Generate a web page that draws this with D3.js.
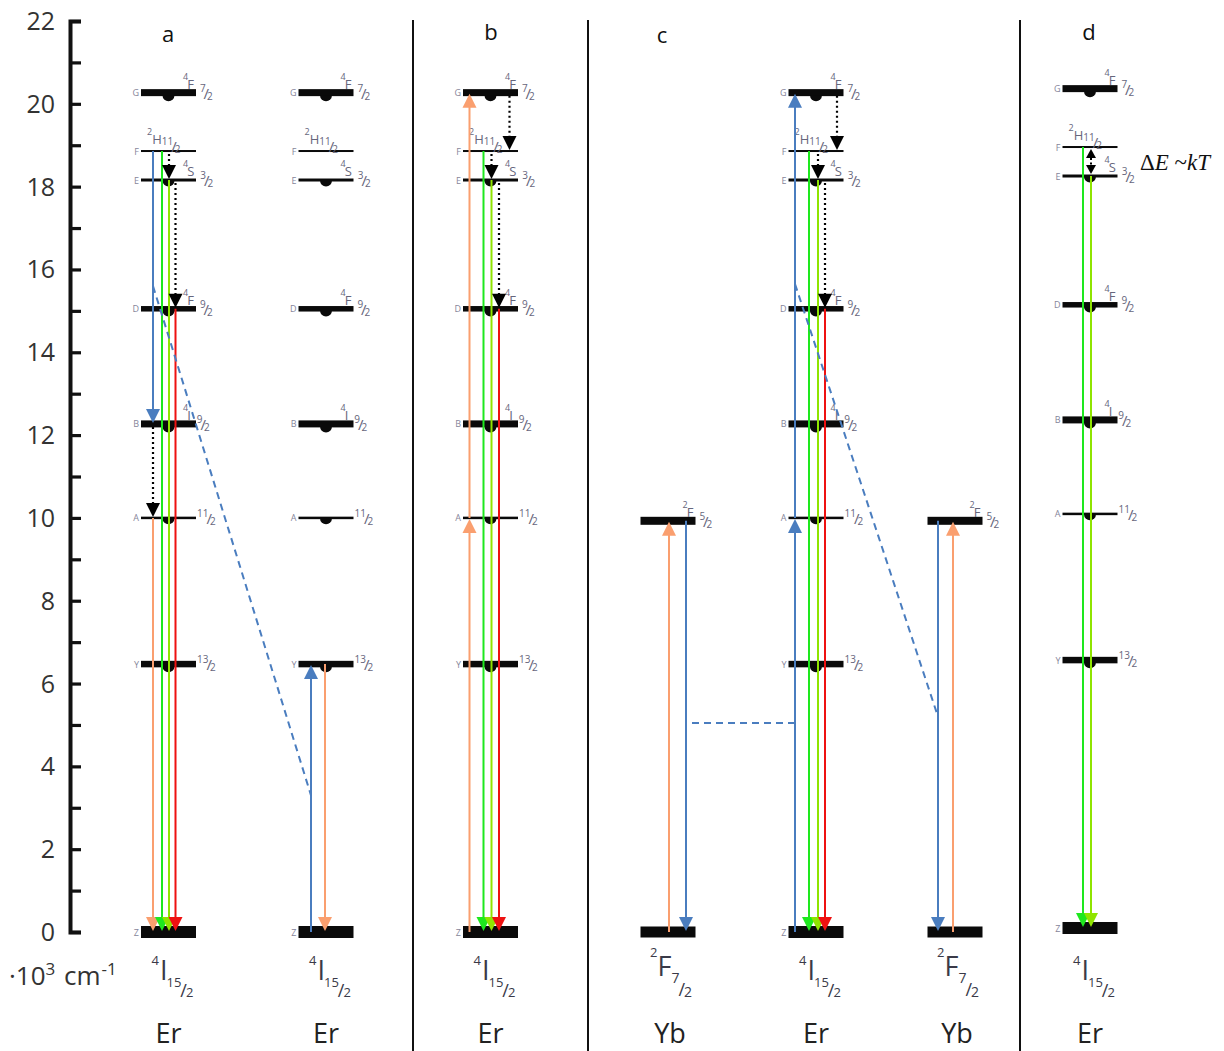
<!DOCTYPE html>
<html><head><meta charset="utf-8">
<script src="https://cdn.jsdelivr.net/npm/d3@7"></script>
<style>body{margin:0;background:#fff} svg{display:block}</style>
</head><body>
<script>
// ---------------- DATA ----------------
const energyTicks = [0, 2, 4, 6, 8, 10, 12, 14, 16, 18, 20, 22];
const allTicks = d3.range(0, 23, 1);
const unitLabel = ["·10", "3", " cm", "-1"];

const erLevelNames    = ["Z", "Y", "A", "B", "D", "E", "F", "G"];
const erLevelEnergies = [0, 6.47, 10.0, 12.27, 15.05, 18.16, 18.86, 20.27];
// term labels: [sup, letter, numerator, denominator]
const erLevelTerms = [null, ["", "", "13", "2"], ["", "", "11", "2"], ["4", "I", "9", "2"],
                      ["4", "F", "9", "2"], ["4", "S", "3", "2"], ["2", "H", "11", "2"], ["4", "F", "7", "2"]];
const erBumpLevels = ["Y", "A", "B", "D", "E", "G"];

const ybLevelNames    = ["g", "e"];
const ybLevelEnergies = [0, 9.93];
const ybLevelTerms    = [null, ["2", "F", "5", "2"]];

const panelLetters = ["a", "b", "c", "d"];
const columnIds  = ["a1", "a2", "b", "c1", "c2", "c3", "d"];
const columnIon  = ["Er", "Er", "Er", "Yb", "Er", "Yb", "Er"];
const ionGround  = { Er: ["4", "I", "15", "2"], Yb: ["2", "F", "7", "2"] };

// transitions: [column, from level, to level, kind, lane]
const transitions = [
  ["a1", "F", "B", "blue", "L"], ["a1", "B", "A", "nr", "L"], ["a1", "A", "Z", "orange", "L"],
  ["a1", "F", "Z", "green", "g"], ["a1", "E", "Z", "yg", "yg"], ["a1", "D", "Z", "red", "r"],
  ["a1", "F", "E", "nr", "yg"], ["a1", "E", "D", "nr", "r"],
  ["a2", "Z", "Y", "blue", "L"], ["a2", "Y", "Z", "orange", "m"],
  ["b", "Z", "A", "orange", "L"], ["b", "A", "G", "orange", "L"],
  ["b", "F", "Z", "green", "g"], ["b", "E", "Z", "yg", "yg"], ["b", "D", "Z", "red", "r"],
  ["b", "G", "F", "nr", "R"], ["b", "F", "E", "nr", "yg"], ["b", "E", "D", "nr", "r"],
  ["c1", "g", "e", "orange", "up"], ["c1", "e", "g", "blue", "down"],
  ["c2", "Z", "A", "blue", "L"], ["c2", "A", "G", "blue", "L"],
  ["c2", "F", "Z", "green", "g"], ["c2", "E", "Z", "yg", "yg"], ["c2", "D", "Z", "red", "r"],
  ["c2", "G", "F", "nr", "R"], ["c2", "F", "E", "nr", "yg"], ["c2", "E", "D", "nr", "r"],
  ["c3", "e", "g", "blue", "down"], ["c3", "g", "e", "orange", "up"],
  ["d", "F", "Z", "green", "g"], ["d", "E", "Z", "yg", "yg"], ["d", "F", "E", "nrboth", "yg"]
];
// dashed energy-transfer links: [colA, laneA, energyA, colB, laneB, energyB]
const dashedLinks = [
  ["a1", "L", 15.6, "a2", "L", 3.3],
  ["c2", "L", 15.65, "c3", "down", 5.2],
  ["c2", "L", 5.05, "c1", "down", 5.05]
];
const annotation = ["Δ", "E", " ~", "kT"];

// ---------------- LAYOUT / STYLE ----------------
const W = 1224, H = 1051;
const colCenter = { a1: 168.5, a2: 326, b: 490.5, c1: 668, c2: 816, c3: 955, d: 1090 };
const colShift  = { a1: 0, a2: 0, b: 0, c1: 0, c2: 0, c3: 0, d: -4 };
const laneOff = {
  a1: { L: -15.5, g: -6.5, yg: 0.5, r: 7 },
  a2: { L: -15, m: -1 },
  b:  { L: -21, g: -7, yg: 1, r: 8.5, R: 19 },
  c1: { up: 1, down: 18 },
  c2: { L: -21, g: -7, yg: 2, r: 9, R: 21 },
  c3: { down: -17, up: -2 },
  d:  { g: -7, yg: 1 }
};
const panelLetterPos = [[168, 42], [491, 40], [662, 43], [1089, 40]];
const separators = [413, 588, 1020];
const thick = { Z: 12, Y: 6.5, A: 2.5, B: 7, D: 5.5, E: 3, F: 2, G: 7, g: 11, e: 8 };
const colors = { blue: "#4a7dbf", orange: "#fa9f6f", green: "#1ee81e", yg: "#8fe400", red: "#ee1111", nr: "#000", nrboth: "#000" };
const halfW = 27.5;
const labelCol = "#66667c";
const letterCol = "#85859a";

const y = d3.scaleLinear().domain([0, 22]).range([932, 21]);

const svg = d3.select("body").append("svg").attr("width", W).attr("height", H)
  .style("font-family", "'Open Sans', sans-serif");

// ---- axis ----
const axis = d3.axisRight(y).tickValues(allTicks).tickSize(11).tickSizeOuter(11).tickFormat("");
const gA = svg.append("g").attr("transform", "translate(70,0)").call(axis);
gA.select(".domain").attr("stroke", "#111").attr("stroke-width", 4);
gA.selectAll(".tick line").attr("stroke", "#111").attr("stroke-width", 3.2);
svg.append("g").selectAll("text").data(energyTicks).join("text")
  .attr("x", 55).attr("y", d => y(d) + 9).attr("text-anchor", "end")
  .attr("font-size", 25).attr("fill", "#333").text(d => d);

const ut = svg.append("text").attr("x", 9).attr("y", 985).attr("fill", "#333").attr("font-size", 26);
ut.append("tspan").text(unitLabel[0]);
ut.append("tspan").text(unitLabel[1]).attr("font-size", 17).attr("dy", -10);
ut.append("tspan").text(unitLabel[2]).attr("dy", 10).attr("dx", 2);
ut.append("tspan").text(unitLabel[3]).attr("font-size", 17).attr("dy", -10).attr("dx", 1);

// separators
svg.append("g").selectAll("line").data(separators).join("line")
  .attr("x1", d => d).attr("x2", d => d).attr("y1", 20).attr("y2", H)
  .attr("stroke", "#111").attr("stroke-width", 2);

// panel letters
svg.append("g").selectAll("text").data(panelLetters).join("text")
  .attr("x", (d, i) => panelLetterPos[i][0]).attr("y", (d, i) => panelLetterPos[i][1])
  .attr("text-anchor", "middle").attr("font-size", 22).attr("fill", "#111").text(d => d);

// ---- helpers ----
function addFrac(t, num, den, dxFirst, dyFirst) {
  t.append("tspan").text(num).attr("font-size", 10).attr("dx", dxFirst).attr("dy", dyFirst);
  t.append("tspan").text("/").attr("font-size", 15).attr("dx", -2).attr("dy", 7);
  t.append("tspan").text(den).attr("font-size", 10).attr("dx", -2).attr("dy", 1);
}

function levelsFor(ion) {
  if (ion === "Er") return erLevelNames.map((n, i) => ({ name: n, E: erLevelEnergies[i], term: erLevelTerms[i], bump: erBumpLevels.includes(n), letter: true }));
  return ybLevelNames.map((n, i) => ({ name: n, E: ybLevelEnergies[i], term: ybLevelTerms[i], bump: false, letter: false }));
}

const colGroups = {};
columnIds.forEach((cid, ci) => {
  const ion = columnIon[ci];
  const cx = colCenter[cid];
  const g = svg.append("g").attr("transform", `translate(0,${colShift[cid]})`);
  colGroups[cid] = g;
  const lv = levelsFor(ion);
  const xs = cx - halfW, xe = cx + halfW;
  // bars
  g.append("g").selectAll("rect").data(lv).join("rect")
    .attr("x", xs).attr("width", 2 * halfW)
    .attr("y", d => y(d.E) - thick[d.name] / 2).attr("height", d => thick[d.name])
    .attr("fill", "#0a0a0a");
  // bumps
  g.append("g").selectAll("path").data(lv.filter(d => d.bump)).join("path")
    .attr("d", d => {
      const yy = y(d.E) + thick[d.name] / 2 - 1, r = 6;
      return `M${cx - r},${yy} A${r},${r} 0 0 0 ${cx + r},${yy} Z`;
    }).attr("fill", "#0a0a0a");
  // left letters
  g.append("g").selectAll("text").data(lv.filter(d => d.letter)).join("text")
    .attr("x", xs - 2).attr("y", d => y(d.E) + 3.5).attr("text-anchor", "end")
    .attr("font-size", 9).attr("fill", letterCol).text(d => d.name);
  // term labels (one text element each)
  lv.forEach(d => {
    if (!d.term) return;
    const yl = y(d.E);
    const [sup, let_, num, den] = d.term;
    if (d.name === "F") {
      const t = g.append("text").attr("x", xs + 6).attr("y", yl - 16).attr("fill", labelCol);
      t.append("tspan").text(sup).attr("font-size", 9);
      t.append("tspan").text(let_).attr("font-size", 13).attr("dy", 9);
      addFrac(t, num, den, 0, 1);
      return;
    }
    if (let_) {
      const t = g.append("text").attr("x", xe - 13).attr("y", yl - 13).attr("fill", labelCol);
      t.append("tspan").text(sup).attr("font-size", 9);
      t.append("tspan").text(let_).attr("font-size", 13).attr("dx", -1).attr("dy", 9);
      addFrac(t, num, den, 6, 3);
    } else {
      const t = g.append("text").attr("x", xe + 1).attr("y", yl).attr("fill", labelCol);
      addFrac(t, num, den, 0, -1);
    }
  });
  // bottom labels (one text element)
  const gl = ionGround[ion];
  if (ion === "Er") {
    const t = svg.append("text").attr("x", cx - 17).attr("y", 965).attr("fill", "#3a3a48");
    t.append("tspan").text(gl[0]).attr("font-size", 13);
    t.append("tspan").text(gl[1]).attr("font-size", 27).attr("dx", 1).attr("dy", 15);
    t.append("tspan").text(gl[2]).attr("font-size", 13).attr("dx", -1).attr("dy", 7);
    t.append("tspan").text("/").attr("font-size", 18).attr("dx", -1).attr("dy", 10);
    t.append("tspan").text(gl[3]).attr("font-size", 13).attr("dx", -1).attr("dy", 0);
  } else {
    const t = svg.append("text").attr("x", cx - 18).attr("y", 957).attr("fill", "#3a3a48");
    t.append("tspan").text(gl[0]).attr("font-size", 13);
    t.append("tspan").text(gl[1]).attr("font-size", 27).attr("dy", 19);
    t.append("tspan").text(gl[2]).attr("font-size", 14).attr("dx", 0).attr("dy", 7);
    t.append("tspan").text("/").attr("font-size", 18).attr("dx", -1).attr("dy", 13);
    t.append("tspan").text(gl[3]).attr("font-size", 14).attr("dx", -1).attr("dy", 1);
  }
  svg.append("text").attr("x", cx + (ion === "Yb" ? 2 : 0)).attr("y", 1043).attr("text-anchor", "middle")
    .attr("font-size", 27).attr("fill", "#222").text(ion);
});

// ---- energy lookup ----
function energyOf(cid, name) {
  const ion = columnIon[columnIds.indexOf(cid)];
  const lv = levelsFor(ion);
  return lv.find(d => d.name === name).E;
}

// ---- dashed links ----
dashedLinks.forEach(([ca, la, ea, cb, lb, eb]) => {
  svg.append("line")
    .attr("x1", colCenter[ca] + laneOff[ca][la]).attr("y1", y(ea) + colShift[ca])
    .attr("x2", colCenter[cb] + laneOff[cb][lb]).attr("y2", y(eb) + colShift[cb])
    .attr("stroke", colors.blue).attr("stroke-width", 2).attr("stroke-dasharray", "7,5");
});

// ---- arrows ----
function head(g, x, tip, dir, w, h, col) {
  g.append("path").attr("d", `M${x},${tip} L${x - w / 2},${tip - dir * h} L${x + w / 2},${tip - dir * h} Z`).attr("fill", col);
}
transitions.forEach(([cid, from, to, kind, lane]) => {
  const g = colGroups[cid];
  const x = colCenter[cid] + laneOff[cid][lane];
  const y1 = y(energyOf(cid, from)), y2 = y(energyOf(cid, to));
  const dir = y2 > y1 ? 1 : -1;
  const col = colors[kind];
  if (kind === "nrboth") {
    const hw = 10, hh = 9;
    g.append("line").attr("x1", x).attr("x2", x).attr("y1", y1 + 2 + hh).attr("y2", y2 - 2 - hh)
      .attr("stroke", "#000").attr("stroke-width", 2).attr("stroke-dasharray", "2,2.5");
    head(g, x, y1 + 2, -1, hw, hh, "#000");
    head(g, x, y2 - 2, 1, hw, hh, "#000");
    return;
  }
  const dotted = kind === "nr";
  const w = 14, h = 14;
  const tip = y2 - dir * 1;
  g.append("line").attr("x1", x).attr("x2", x).attr("y1", y1 + dir * (dotted ? 3 : 0)).attr("y2", tip - dir * (h - 1))
    .attr("stroke", col).attr("stroke-width", dotted ? 2.2 : 2)
    .attr("stroke-dasharray", dotted ? "2,3" : null);
  head(g, x, tip, dir, w, h, col);
});

// ---- annotation ----
const an = svg.append("text").attr("x", 1140).attr("y", 170).attr("font-family", "'Liberation Serif', serif")
  .attr("font-size", 23).attr("fill", "#111");
an.append("tspan").text(annotation[0]);
an.append("tspan").text(annotation[1]).attr("font-style", "italic");
an.append("tspan").text(annotation[2]);
an.append("tspan").text(annotation[3]).attr("font-style", "italic");
</script>
</body></html>
